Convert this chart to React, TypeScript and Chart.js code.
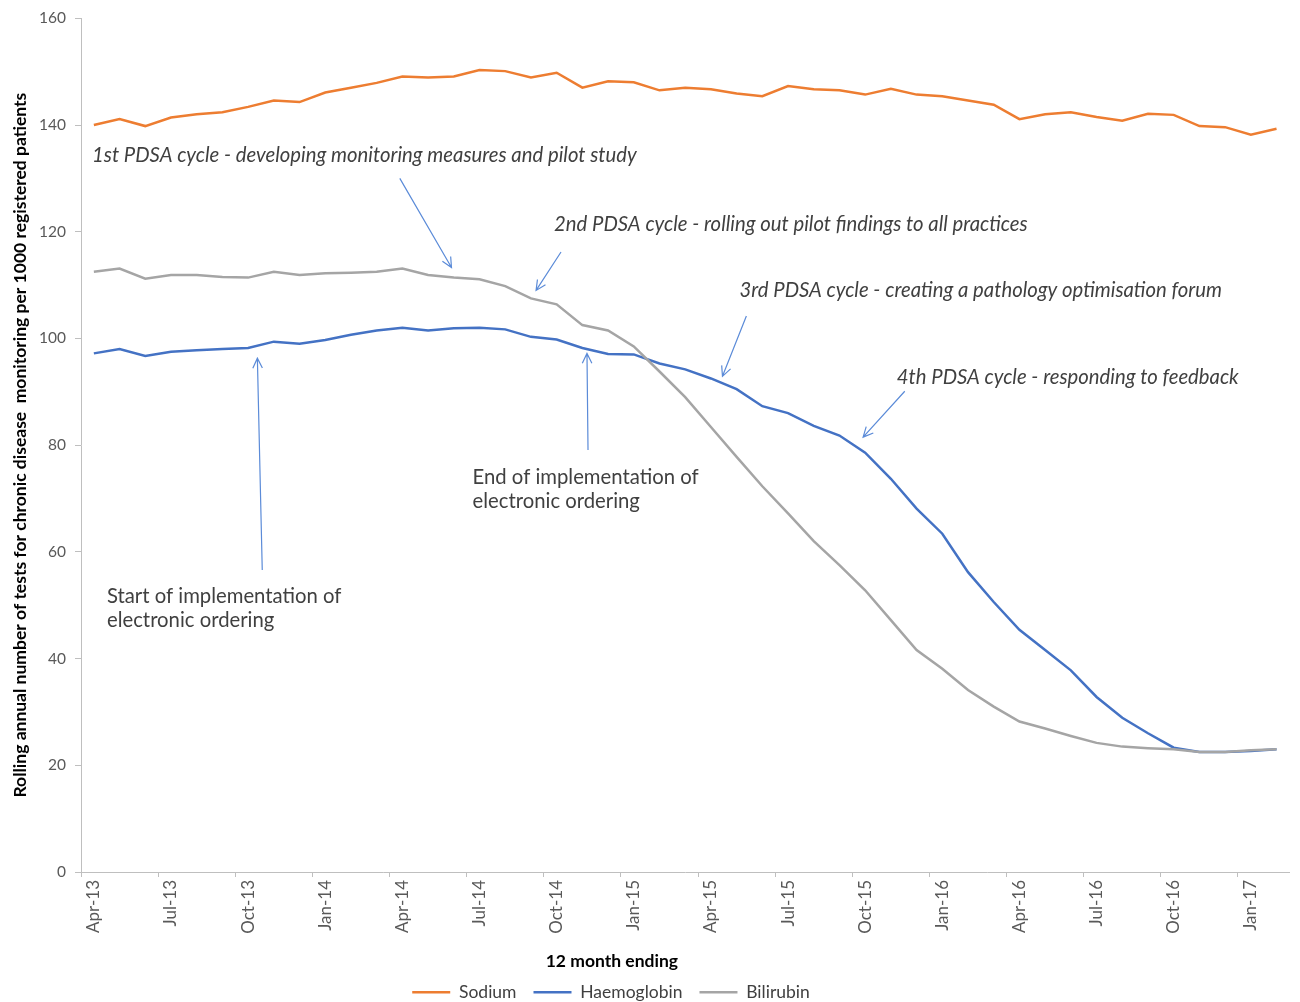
import React, { useEffect, useRef } from 'react';
import { Chart, registerables } from 'chart.js';

Chart.register(...registerables);

const months = [
  'Apr-13', 'May-13', 'Jun-13', 'Jul-13', 'Aug-13', 'Sep-13', 'Oct-13', 'Nov-13', 'Dec-13',
  'Jan-14', 'Feb-14', 'Mar-14', 'Apr-14', 'May-14', 'Jun-14', 'Jul-14', 'Aug-14', 'Sep-14', 'Oct-14', 'Nov-14', 'Dec-14',
  'Jan-15', 'Feb-15', 'Mar-15', 'Apr-15', 'May-15', 'Jun-15', 'Jul-15', 'Aug-15', 'Sep-15', 'Oct-15', 'Nov-15', 'Dec-15',
  'Jan-16', 'Feb-16', 'Mar-16', 'Apr-16', 'May-16', 'Jun-16', 'Jul-16', 'Aug-16', 'Sep-16', 'Oct-16', 'Nov-16', 'Dec-16',
  'Jan-17', 'Feb-17',
];

const sodium = [
  140.0, 141.1, 139.8, 141.4, 142.0, 142.4, 143.4, 144.6, 144.3,
  146.1, 147.0, 147.9, 149.1, 148.9, 149.1, 150.3, 150.1, 148.9, 149.8, 147.0, 148.2,
  148.0, 146.5, 147.0, 146.7, 145.9, 145.4, 147.3, 146.7, 146.5, 145.7, 146.8, 145.7,
  145.4, 144.6, 143.8, 141.1, 142.0, 142.4, 141.5, 140.8, 142.1, 141.9, 139.8, 139.6,
  138.2, 139.3,
];

const haemoglobin = [
  97.2, 98.0, 96.7, 97.5, 97.8, 98.0, 98.2, 99.4, 99.0,
  99.7, 100.7, 101.5, 102.0, 101.5, 101.9, 102.0, 101.7, 100.3, 99.8, 98.2, 97.1,
  97.0, 95.3, 94.2, 92.5, 90.5, 87.3, 86.0, 83.6, 81.8, 78.6, 73.7, 68.1,
  63.4, 56.2, 50.6, 45.4, 41.6, 37.8, 32.8, 28.9, 26.0, 23.3, 22.5, 22.5,
  22.7, 23.0,
];

const bilirubin = [
  112.5, 113.1, 111.2, 111.9, 111.9, 111.5, 111.4, 112.5, 111.9,
  112.2, 112.3, 112.5, 113.1, 111.9, 111.4, 111.1, 109.8, 107.5, 106.4, 102.5, 101.5,
  98.5, 93.8, 89.0, 83.4, 77.8, 72.3, 67.2, 62.0, 57.5, 52.8, 47.2, 41.6,
  38.1, 34.1, 31.0, 28.2, 26.9, 25.5, 24.2, 23.5, 23.2, 23.0, 22.5, 22.5,
  22.8, 23.0,
];

const yMin = 0;
const yMax = 160;
const yStep = 20;
const labelEvery = 3;

const yTitle = 'Rolling annual number of tests for chronic disease  monitoring per 1000 registered patients';
const xTitle = '12 month ending';

// annotations, positioned in data coordinates (category index, value)
const notes = [
  { lines: ['1st PDSA cycle - developing monitoring measures and pilot study'], x: -0.07, y: 134.3, italic: true },
  { lines: ['2nd PDSA cycle - rolling out pilot findings to all practices'], x: 17.9, y: 121.4, italic: true },
  { lines: ['3rd PDSA cycle - creating a pathology optimisation forum'], x: 25.11, y: 108.9, italic: true },
  { lines: ['4th PDSA cycle - responding to feedback'], x: 31.23, y: 92.6, italic: true },
  { lines: ['Start of implementation of', 'electronic ordering'], x: 0.51, y: 51.7, italic: false },
  { lines: ['End of implementation of', 'electronic ordering'], x: 14.73, y: 74.0, italic: false },
];

const arrows = [
  { from: [11.9, 130.0], to: [13.91, 113.3] },
  { from: [18.17, 116.2], to: [17.2, 109.0] },
  { from: [25.38, 104.2], to: [24.45, 92.9] },
  { from: [31.54, 90.1], to: [29.92, 81.5] },
  { from: [6.55, 56.6], to: [6.36, 96.3] },
  { from: [19.22, 79.1], to: [19.18, 97.2] },
];

const FONT = 'Lato, "Open Sans", sans-serif';
const TEXT = '#404040';
const AXIS = '#bfbfbf';
const ARROW = '#5b8bd8';

const notesPlugin = {
  id: 'notes',
  afterLayout(chart: any) {
    const lg = chart.legend;
    if (lg) {
      lg.left -= 36;
      lg.right -= 36;
      lg.top += 9;
      lg.bottom += 9;
    }
  },
  afterDraw(chart: any) {
    const { ctx, scales, chartArea } = chart;
    const xs = scales.x;
    const ys = scales.y;
    ctx.save();
    // arrows
    ctx.strokeStyle = ARROW;
    ctx.lineWidth = 1.2;
    for (const a of arrows) {
      const x1 = xs.getPixelForValue(a.from[0]);
      const y1 = ys.getPixelForValue(a.from[1]);
      const x2 = xs.getPixelForValue(a.to[0]);
      const y2 = ys.getPixelForValue(a.to[1]);
      ctx.beginPath();
      ctx.moveTo(x1, y1);
      ctx.lineTo(x2, y2);
      const ang = Math.atan2(y2 - y1, x2 - x1);
      const len = 11;
      const spread = 0.45;
      ctx.moveTo(x2 - len * Math.cos(ang - spread), y2 - len * Math.sin(ang - spread));
      ctx.lineTo(x2, y2);
      ctx.lineTo(x2 - len * Math.cos(ang + spread), y2 - len * Math.sin(ang + spread));
      ctx.stroke();
    }
    // texts
    ctx.fillStyle = TEXT;
    ctx.textBaseline = 'middle';
    ctx.textAlign = 'left';
    for (const n of notes) {
      ctx.font = `${n.italic ? 'italic ' : ''}20.3px ${FONT}`;
      const px = xs.getPixelForValue(n.x);
      const py = ys.getPixelForValue(n.y);
      n.lines.forEach((line, i) => ctx.fillText(line, px, py + i * 24));
    }
    // x axis title
    ctx.font = `bold 17.5px ${FONT}`;
    ctx.fillStyle = '#000000';
    ctx.textAlign = 'center';
    ctx.fillText(xTitle, chartArea.left + (chartArea.right - chartArea.left) * 0.4393, 961);
    ctx.restore();
  },
};

export default function App() {
  const ref = useRef<HTMLCanvasElement | null>(null);

  useEffect(() => {
    document.body.style.margin = '0';
    const canvas = ref.current;
    if (!canvas) return;
    const chart = new Chart(canvas, {
      type: 'line',
      data: {
        labels: months,
        datasets: [
          { label: 'Sodium', data: sodium, borderColor: '#ed7d31', backgroundColor: '#ed7d31', borderWidth: 2.5, pointRadius: 0, order: 3 },
          { label: 'Haemoglobin', data: haemoglobin, borderColor: '#4472c4', backgroundColor: '#4472c4', borderWidth: 2.5, pointRadius: 0, order: 2 },
          { label: 'Bilirubin', data: bilirubin, borderColor: '#a5a5a5', backgroundColor: '#a5a5a5', borderWidth: 2.5, pointRadius: 0, order: 1 },
        ],
      },
      options: {
        responsive: false,
        animation: false,
        devicePixelRatio: 1,
        layout: { padding: { top: 18, right: 6, bottom: 0, left: 0 } },
        plugins: {
          tooltip: { enabled: false },
          legend: {
            position: 'bottom',
            labels: {
              usePointStyle: true,
              pointStyle: 'line',
              pointStyleWidth: 38,
              color: TEXT,
              font: { family: FONT, size: 17.5 },
              padding: 17,
              sort: (a: any, b: any) => a.datasetIndex - b.datasetIndex,
            },
          },
        },
        scales: {
          x: {
            type: 'category',
            offset: true,
            afterFit: (scale: any) => {
              const lgH = scale.chart.legend ? scale.chart.legend.height : 0;
              scale.height = 1002 - 872 - lgH;
            },
            grid: {
              offset: true,
              drawOnChartArea: false,
              drawTicks: true,
              tickLength: 5,
              color: (c: any) => (c.index % labelEvery === 0 ? AXIS : 'rgba(0,0,0,0)'),
            },
            border: { color: AXIS, width: 1 },
            ticks: {
              autoSkip: false,
              maxRotation: 90,
              minRotation: 90,
              padding: 3,
              color: '#595959',
              font: { family: FONT, size: 17 },
              callback: (_v: any, i: number) => (i % labelEvery === 0 ? months[i] : ''),
            },
          },
          y: {
            min: yMin,
            max: yMax,
            afterFit: (scale: any) => {
              scale.width = 81;
            },
            grid: { drawOnChartArea: false, drawTicks: true, tickLength: 6, color: AXIS },
            border: { color: AXIS, width: 1 },
            ticks: {
              stepSize: yStep,
              padding: 9,
              color: '#595959',
              font: { family: FONT, size: 15.5 },
            },
            title: {
              display: true,
              text: yTitle,
              color: '#000000',
              font: { family: FONT, size: 17.5, weight: 'bold' },
              padding: { top: 10, bottom: 0 },
            },
          },
        },
      },
      plugins: [notesPlugin],
    });
    return () => chart.destroy();
  }, []);

  return (
    <div style={{ width: 1300, height: 1002 }}>
      <canvas ref={ref} width={1300} height={1002} />
    </div>
  );
}
